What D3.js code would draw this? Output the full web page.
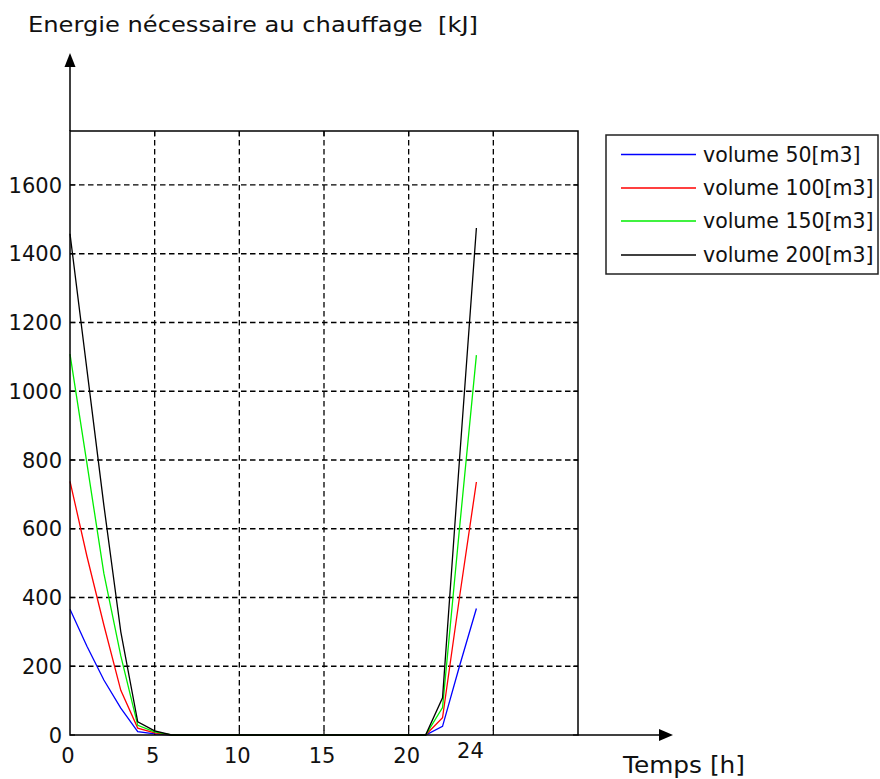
<!DOCTYPE html>
<html>
<head>
<meta charset="utf-8">
<script src="https://cdn.jsdelivr.net/npm/d3@7"></script>
<style>
  html, body { margin: 0; padding: 0; background: #fff; }
  svg { display: block; }
  text { font-family: "DejaVu Sans", Verdana, sans-serif; fill: #111; }
</style>
</head>
<body>
<svg id="chart" width="880" height="779"></svg>
<script>
// ---- data ----
const hours = [0,1,2,3,4,5,6,7,8,9,10,11,12,13,14,15,16,17,18,19,20,21,22,23,24];
const vol50  = [366, 258, 160,  78, 10,  3, 0, 0,0,0,0,0,0,0,0,0,0,0,0,0,0, 0,  25, 200,  368];
const vol100 = [738, 520, 320, 130, 20,  6, 0, 0,0,0,0,0,0,0,0,0,0,0,0,0,0, 0,  50, 400,  736];
const vol150 = [1108, 790, 470, 230, 28, 9, 0, 0,0,0,0,0,0,0,0,0,0,0,0,0,0, 0,  80, 600, 1105];
const vol200 = [1458, 1063, 668, 300, 38, 12, 0, 0,0,0,0,0,0,0,0,0,0,0,0,0,0, 0, 108, 800, 1475];
const seriesNames = ["volume 50[m3]", "volume 100[m3]", "volume 150[m3]", "volume 200[m3]"];
const seriesColors = ["#0000ff", "#ff0000", "#00ee00", "#000000"];
const xTicks = [0, 5, 10, 15, 20, 24];
const xGrid = [5, 10, 15, 20, 25];
const yTicks = [0, 200, 400, 600, 800, 1000, 1200, 1400, 1600];
const yTitle = "Energie nécessaire au chauffage  [kJ]";
const xTitle = "Temps [h]";

const series = [vol50, vol100, vol150, vol200];

const svg = d3.select("#chart");
const L = 70, R = 578, T = 131, B = 735;
const x = d3.scaleLinear().domain([0, 30]).range([L, R]);
const y = d3.scaleLinear().domain([0, 1757]).range([B, T]);

// grid
const g = svg.append("g");
g.selectAll("line.vg").data(xGrid).enter().append("line")
  .attr("x1", d => x(d)).attr("x2", d => x(d)).attr("y1", T).attr("y2", B)
  .attr("stroke", "#000").attr("stroke-width", 1.3).attr("stroke-dasharray", "5.5,3.5");
g.selectAll("line.hg").data(yTicks.filter(d => d > 0)).enter().append("line")
  .attr("x1", L).attr("x2", R).attr("y1", d => y(d)).attr("y2", d => y(d))
  .attr("stroke", "#000").attr("stroke-width", 1.3).attr("stroke-dasharray", "5.5,3.5");

// ticks inward
const tk = 5;
xGrid.forEach(v => {
  g.append("line").attr("x1", x(v)).attr("x2", x(v)).attr("y1", B).attr("y2", B - tk).attr("stroke", "#000").attr("stroke-width", 1.2);
  g.append("line").attr("x1", x(v)).attr("x2", x(v)).attr("y1", T).attr("y2", T + tk).attr("stroke", "#000").attr("stroke-width", 1.2);
});
yTicks.forEach(v => {
  g.append("line").attr("x1", L).attr("x2", L + tk).attr("y1", y(v)).attr("y2", y(v)).attr("stroke", "#000").attr("stroke-width", 1.2);
  g.append("line").attr("x1", R).attr("x2", R - tk).attr("y1", y(v)).attr("y2", y(v)).attr("stroke", "#000").attr("stroke-width", 1.2);
});

// curves
const line = d3.line().x((d, i) => x(hours[i])).y(d => y(d));
series.forEach((s, k) => {
  svg.append("path").datum(s).attr("d", line)
    .attr("fill", "none").attr("stroke", seriesColors[k]).attr("stroke-width", 1.3);
});

// frame
svg.append("rect").attr("x", L).attr("y", T).attr("width", R - L).attr("height", B - T)
  .attr("fill", "none").attr("stroke", "#000").attr("stroke-width", 1.5);

// axis arrows
svg.append("line").attr("x1", L).attr("x2", L).attr("y1", T).attr("y2", 64)
  .attr("stroke", "#000").attr("stroke-width", 1.5);
svg.append("path").attr("d", `M${L},53 L${L-5.5},67 L${L+5.5},67 Z`).attr("fill", "#000");
svg.append("line").attr("x1", R).attr("x2", 662).attr("y1", B).attr("y2", B)
  .attr("stroke", "#000").attr("stroke-width", 1.5);
svg.append("path").attr("d", `M673,${B} L659,${B-6} L659,${B+6} Z`).attr("fill", "#000");

// tick labels
svg.selectAll("text.yl").data(yTicks).enter().append("text")
  .attr("x", 62).attr("y", d => y(d)).attr("dy", "0.36em")
  .attr("text-anchor", "end").attr("font-size", 21).text(d => d);
svg.selectAll("text.xl").data(xTicks).enter().append("text")
  .attr("x", d => x(d) - (d === 24 ? 6 : 2)).attr("y", d => d === 24 ? 758 : 763)
  .attr("text-anchor", "middle").attr("font-size", 21).text(d => d);

// titles
svg.append("text").attr("x", 28).attr("y", 32).attr("font-size", 22)
  .style("white-space", "pre")
  .attr("textLength", 450).attr("lengthAdjust", "spacingAndGlyphs").text(yTitle);
svg.append("text").attr("x", 623).attr("y", 773).attr("font-size", 23)
  .attr("textLength", 122).attr("lengthAdjust", "spacingAndGlyphs").text(xTitle);

// legend
const lg = svg.append("g");
lg.append("rect").attr("x", 606).attr("y", 135).attr("width", 272).attr("height", 139)
  .attr("fill", "#fff").attr("stroke", "#222").attr("stroke-width", 1.5);
const rows = [154.5, 188, 221, 255];
seriesNames.forEach((n, k) => {
  lg.append("line").attr("x1", 621).attr("x2", 696).attr("y1", rows[k]).attr("y2", rows[k])
    .attr("stroke", seriesColors[k]).attr("stroke-width", 1.3);
  lg.append("text").attr("x", 703).attr("y", rows[k]).attr("dy", "0.36em")
    .attr("font-size", 20.5).text(n);
});
</script>
</body>
</html>
